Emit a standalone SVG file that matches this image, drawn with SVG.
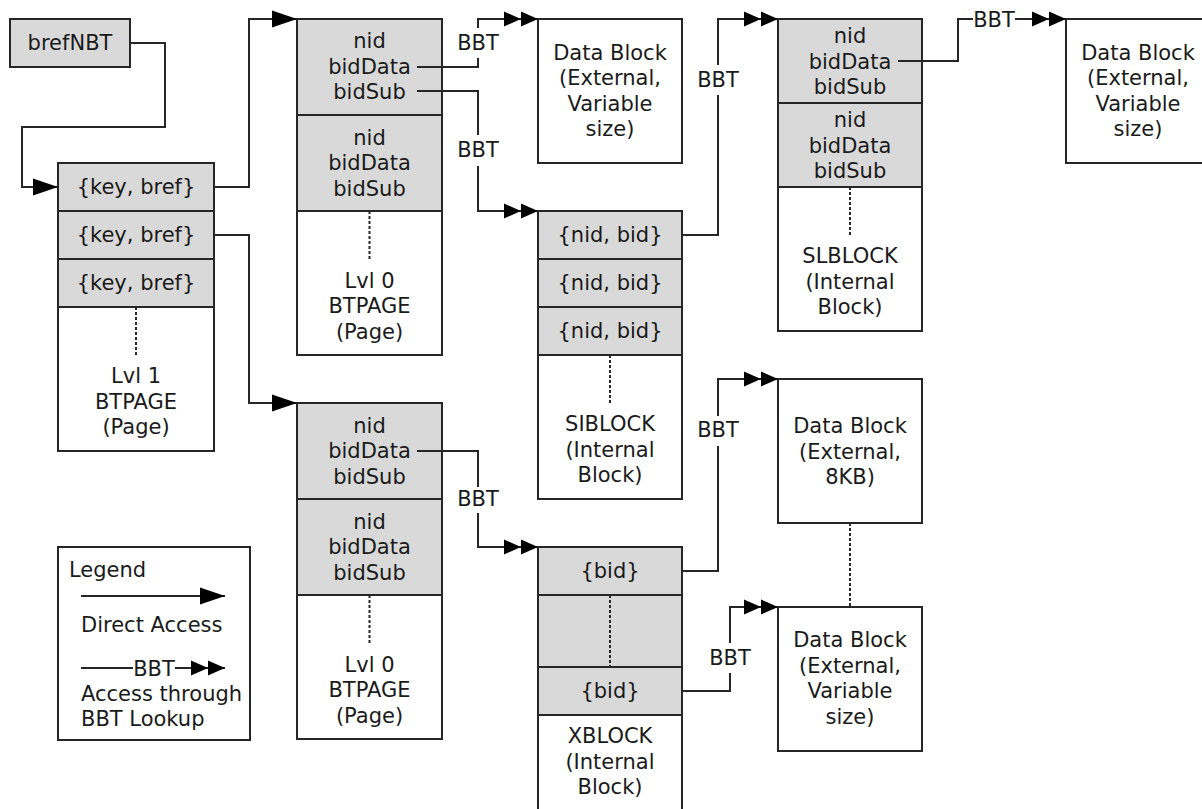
<svg xmlns="http://www.w3.org/2000/svg" width="1202" height="809" viewBox="0 0 1202 809">
<style>
.w{fill:#ffffff;stroke:#262626;stroke-width:2}
.g{fill:#d9d9d9;stroke:#262626;stroke-width:2}
.t{font-family:"DejaVu Sans",Verdana,sans-serif;font-size:21px;fill:#1a1a1a;text-anchor:middle}
.l{text-anchor:start}
.c{fill:none;stroke:#262626;stroke-width:2}
.d{fill:none;stroke:#262626;stroke-width:2;stroke-dasharray:3 2}
</style>
<defs>
<marker id="arr" markerUnits="userSpaceOnUse" markerWidth="26" markerHeight="18" refX="25" refY="9" orient="auto" overflow="visible">
<path d="M0,0.5 L25,9 L0,17.5 z" fill="#000"/>
</marker>
<marker id="dbl" markerUnits="userSpaceOnUse" markerWidth="34" markerHeight="16" refX="34" refY="8" orient="auto" overflow="visible">
<path d="M0,0.5 L17,8 L0,15.5 z M17,0.5 L34,8 L17,15.5 z" fill="#000"/>
</marker>
</defs>
<rect width="1202" height="809" fill="#ffffff"/>

<g id="brefNBT">
<rect class="g" x="10" y="19" width="120" height="48"/>
<text class="t" x="70" y="50">brefNBT</text>
</g>

<g id="lvl1-btpage">
<rect class="g" x="58" y="163" width="156" height="48"/>
<rect class="g" x="58" y="211" width="156" height="48"/>
<rect class="g" x="58" y="259" width="156" height="48"/>
<rect class="w" x="58" y="307" width="156" height="144"/>
<path class="d" d="M136,307 V356"/>
<text class="t" x="136" y="194">{key, bref}</text>
<text class="t" x="136" y="242">{key, bref}</text>
<text class="t" x="136" y="290">{key, bref}</text>
<text class="t" x="136" y="383">Lvl 1</text>
<text class="t" x="136" y="408.5">BTPAGE</text>
<text class="t" x="136" y="434">(Page)</text>
</g>

<g id="lvl0-btpage-top">
<rect class="g" x="297" y="19" width="145" height="96"/>
<rect class="g" x="297" y="115" width="145" height="96"/>
<rect class="w" x="297" y="211" width="145" height="144"/>
<path class="d" d="M369.5,211 V260"/>
<text class="t" x="369.5" y="48">nid</text>
<text class="t" x="369.5" y="73.5">bidData</text>
<text class="t" x="369.5" y="99">bidSub</text>
<text class="t" x="369.5" y="144.5">nid</text>
<text class="t" x="369.5" y="170">bidData</text>
<text class="t" x="369.5" y="195.5">bidSub</text>
<text class="t" x="369.5" y="287.5">Lvl 0</text>
<text class="t" x="369.5" y="313">BTPAGE</text>
<text class="t" x="369.5" y="338.5">(Page)</text>
</g>

<g id="lvl0-btpage-bottom">
<rect class="g" x="297" y="403" width="145" height="96"/>
<rect class="g" x="297" y="499" width="145" height="96"/>
<rect class="w" x="297" y="595" width="145" height="144"/>
<path class="d" d="M369.5,595 V644"/>
<text class="t" x="369.5" y="432.5">nid</text>
<text class="t" x="369.5" y="458">bidData</text>
<text class="t" x="369.5" y="483.5">bidSub</text>
<text class="t" x="369.5" y="528.5">nid</text>
<text class="t" x="369.5" y="554">bidData</text>
<text class="t" x="369.5" y="579.5">bidSub</text>
<text class="t" x="369.5" y="671.5">Lvl 0</text>
<text class="t" x="369.5" y="697">BTPAGE</text>
<text class="t" x="369.5" y="722.5">(Page)</text>
</g>

<g id="datablock-1">
<rect class="w" x="538" y="19" width="144" height="144"/>
<text class="t" x="610" y="59.5">Data Block</text>
<text class="t" x="610" y="85">(External,</text>
<text class="t" x="610" y="110.5">Variable</text>
<text class="t" x="610" y="136">size)</text>
</g>

<g id="siblock">
<rect class="g" x="538" y="211" width="144" height="48"/>
<rect class="g" x="538" y="259" width="144" height="48"/>
<rect class="g" x="538" y="307" width="144" height="48"/>
<rect class="w" x="538" y="355" width="144" height="144"/>
<path class="d" d="M610,355 V403"/>
<text class="t" x="610" y="242">{nid, bid}</text>
<text class="t" x="610" y="290">{nid, bid}</text>
<text class="t" x="610" y="338">{nid, bid}</text>
<text class="t" x="610" y="431">SIBLOCK</text>
<text class="t" x="610" y="456.5">(Internal</text>
<text class="t" x="610" y="482">Block)</text>
</g>

<g id="slblock">
<rect class="g" x="778" y="19" width="144" height="84"/>
<rect class="g" x="778" y="103" width="144" height="84"/>
<rect class="w" x="778" y="187" width="144" height="144"/>
<path class="d" d="M850,187 V236"/>
<text class="t" x="850" y="43">nid</text>
<text class="t" x="850" y="68.5">bidData</text>
<text class="t" x="850" y="94">bidSub</text>
<text class="t" x="850" y="127">nid</text>
<text class="t" x="850" y="152.5">bidData</text>
<text class="t" x="850" y="178">bidSub</text>
<text class="t" x="850" y="263">SLBLOCK</text>
<text class="t" x="850" y="288.5">(Internal</text>
<text class="t" x="850" y="314">Block)</text>
</g>

<g id="datablock-2">
<rect class="w" x="1066" y="19" width="150" height="144"/>
<text class="t" x="1138" y="59.5">Data Block</text>
<text class="t" x="1138" y="85">(External,</text>
<text class="t" x="1138" y="110.5">Variable</text>
<text class="t" x="1138" y="136">size)</text>
</g>

<g id="xblock">
<rect class="g" x="538" y="547" width="144" height="48"/>
<rect class="g" x="538" y="595" width="144" height="72"/>
<rect class="g" x="538" y="667" width="144" height="48"/>
<rect class="w" x="538" y="715" width="144" height="120"/>
<path class="d" d="M610,595 V667"/>
<text class="t" x="610" y="578">{bid}</text>
<text class="t" x="610" y="698">{bid}</text>
<text class="t" x="610" y="743">XBLOCK</text>
<text class="t" x="610" y="768.5">(Internal</text>
<text class="t" x="610" y="794">Block)</text>
</g>

<g id="datablock-8kb">
<rect class="w" x="778" y="379" width="144" height="144"/>
<text class="t" x="850" y="433">Data Block</text>
<text class="t" x="850" y="458.5">(External,</text>
<text class="t" x="850" y="484">8KB)</text>
</g>

<g id="datablock-3">
<rect class="w" x="778" y="607" width="144" height="144"/>
<text class="t" x="850" y="647">Data Block</text>
<text class="t" x="850" y="672.5">(External,</text>
<text class="t" x="850" y="698">Variable</text>
<text class="t" x="850" y="723.5">size)</text>
</g>

<g id="legend">
<rect class="w" x="58" y="547" width="192" height="193"/>
<text class="t l" x="69" y="577">Legend</text>
<path class="c" d="M81,596 H225" marker-end="url(#arr)"/>
<text class="t l" x="81" y="632">Direct Access</text>
<path class="c" d="M81,668 H133 M175,668 H225" marker-end="url(#dbl)"/>
<text class="t" x="154" y="675.5">BBT</text>
<text class="t l" x="81" y="700.5">Access through</text>
<text class="t l" x="81" y="726">BBT Lookup</text>
</g>

<g id="connectors">
<path class="c" d="M130,43 H165 V127 H22 V187 H58" marker-end="url(#arr)"/>
<path class="c" d="M214,187 H249 V19 H297" marker-end="url(#arr)"/>
<path class="c" d="M214,235 H249 V403 H297" marker-end="url(#arr)"/>
<path class="c" d="M417,67 H478 V58 M478,28 V19 H538" marker-end="url(#dbl)"/>
<text class="t" x="478" y="50">BBT</text>
<path class="c" d="M417,91 H478 V135 M478,166 V211 H538" marker-end="url(#dbl)"/>
<text class="t" x="478" y="157">BBT</text>
<path class="c" d="M682,235 H718 V95 M718,65 V19 H778" marker-end="url(#dbl)"/>
<text class="t" x="718" y="87">BBT</text>
<path class="c" d="M898,61 H958 V19 H973 M1015,19 H1066" marker-end="url(#dbl)"/>
<text class="t" x="994" y="26.5">BBT</text>
<path class="c" d="M417,451 H478 V487 M478,513 V547 H538" marker-end="url(#dbl)"/>
<text class="t" x="478" y="506">BBT</text>
<path class="c" d="M682,571 H718 V446 M718,416 V379 H778" marker-end="url(#dbl)"/>
<text class="t" x="718" y="437">BBT</text>
<path class="c" d="M682,691 H730 V673 M730,643 V607 H778" marker-end="url(#dbl)"/>
<text class="t" x="730" y="665">BBT</text>
<path class="d" d="M850,523 V607"/>
</g>
</svg>
